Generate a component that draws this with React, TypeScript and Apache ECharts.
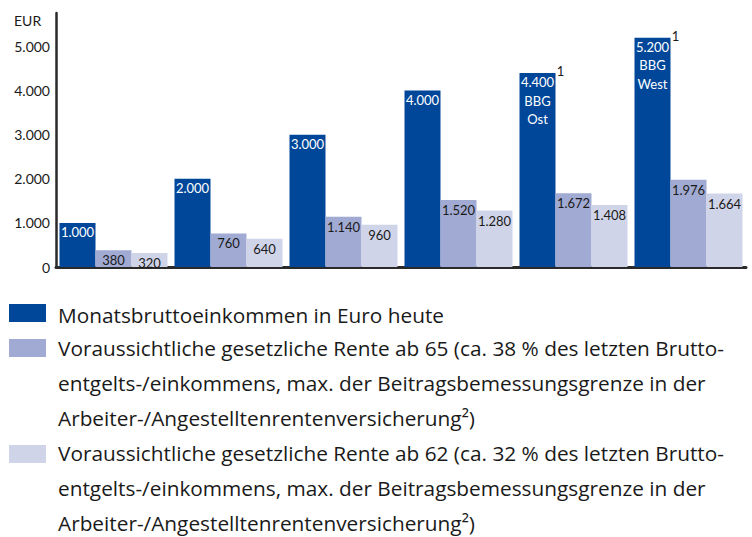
import React, { useEffect, useRef } from "react";
import * as echarts from "echarts";

const categories = ["A", "B", "C", "D", "E", "F"];
const income = [1000, 2000, 3000, 4000, 4400, 5200];
const rente65 = [380, 760, 1140, 1520, 1672, 1976];
const rente62 = [320, 640, 960, 1280, 1408, 1664];
const incomeNotes = ["", "", "", "", "BBG\nOst", "BBG\nWest"];
const footnoteIdx = [4, 5];
const yTicks = [0, 1000, 2000, 3000, 4000, 5000];

const legendItems = [
  { color: "#00479A", text: "Monatsbruttoeinkommen in Euro heute" },
  {
    color: "#A1AAD3",
    text:
      "Voraussichtliche gesetzliche Rente ab 65 (ca. 38 % des letzten Brutto-\nentgelts-/einkommens, max. der Beitragsbemessungsgrenze in der\nArbeiter-/Angestelltenrentenversicherung²)",
  },
  {
    color: "#D0D4E9",
    text:
      "Voraussichtliche gesetzliche Rente ab 62 (ca. 32 % des letzten Brutto-\nentgelts-/einkommens, max. der Beitragsbemessungsgrenze in der\nArbeiter-/Angestelltenrentenversicherung²)",
  },
];

const FONT = "Lato";
const LEGEND_FONT = "Open Sans";

function de(v: number): string {
  const s = String(Math.round(v));
  return s.replace(/\B(?=(\d{3})+(?!\d))/g, ".");
}

export default function App() {
  const ref = useRef<HTMLDivElement>(null);
  useEffect(() => {
    if (!ref.current) return;
    const chart = echarts.init(ref.current, undefined, { renderer: "svg" });
    const labelBase = {
      show: true,
      position: "insideTop" as const,
      distance: 2,
      fontSize: 13,
      fontFamily: FONT,
      lineHeight: 16,
    };
    const legendGraphics: any[] = [];
    const rectYs = [304, 339, 445];
    const textYs = [315, 330.5, 435.5];
    legendItems.forEach((it, i) => {
      legendGraphics.push({
        type: "rect",
        left: 9,
        top: rectYs[i],
        shape: { width: 37, height: 18 },
        style: { fill: it.color },
      });
      legendGraphics.push({
        type: "text",
        x: 58,
        y: textYs[i],
        style: {
          text: it.text,
          fill: "#1a1a1a",
          fontSize: 20.8,
          fontFamily: LEGEND_FONT,
          lineHeight: 35,
          verticalAlign: i === 0 ? "middle" : "top",
        },
      });
    });
    chart.setOption({
      animation: false,
      textStyle: { fontFamily: FONT },
      grid: { left: 56, right: 6, top: 13, bottom: 270, containLabel: false },
      xAxis: {
        type: "category",
        data: categories,
        axisLine: { show: true, lineStyle: { color: "#2a2a2a", width: 3 } },
        axisTick: { show: false },
        axisLabel: { show: false },
      },
      yAxis: {
        type: "value",
        min: 0,
        max: 5760,
        interval: 1000,
        splitLine: { show: false },
        axisTick: { show: false },
        axisLine: { show: true, lineStyle: { color: "#2a2a2a", width: 2.5 } },
        axisLabel: {
          showMaxLabel: false,
          margin: 6,
          color: "#1a1a1a",
          fontSize: 14,
          fontFamily: FONT,
          formatter: (v: number) => (yTicks.includes(v) ? de(v) : ""),
        },
      },
      series: [
        {
          name: "Monatsbruttoeinkommen in Euro heute",
          type: "bar",
          barWidth: 36,
          barGap: "0%",
          itemStyle: { color: "#00479A" },
          data: income.map((v, i) => ({
            value: v,
            label: {
              ...labelBase,
              color: "#ffffff",
              lineHeight: 18.5,
              distance: 0,
              formatter: incomeNotes[i] ? `${de(v)}\n${incomeNotes[i]}` : de(v),
            },
          })),
          markPoint: {
            symbol: "rect",
            symbolSize: 1,
            itemStyle: { color: "rgba(0,0,0,0)" },
            label: {
              show: true,
              formatter: "1",
              position: "inside",
              offset: [23, -2],
              color: "#1a1a1a",
              fontSize: 13,
              fontFamily: FONT,
            },
            data: footnoteIdx.map((i) => ({ coord: [i, income[i]] })),
          },
        },
        {
          name: "Voraussichtliche gesetzliche Rente ab 65",
          type: "bar",
          barWidth: 36,
          barGap: "0%",
          itemStyle: { color: "#A1AAD3" },
          label: { ...labelBase, color: "#1a1a1a", formatter: (p: any) => de(p.value) },
          data: rente65,
        },
        {
          name: "Voraussichtliche gesetzliche Rente ab 62",
          type: "bar",
          barWidth: 36,
          barGap: "0%",
          itemStyle: { color: "#D0D4E9" },
          label: { ...labelBase, color: "#1a1a1a", formatter: (p: any) => de(p.value) },
          data: rente62,
        },
      ],
      graphic: [
        {
          type: "text",
          x: 14,
          y: 20,
          style: { text: "EUR", fill: "#1a1a1a", fontSize: 14, fontFamily: FONT, verticalAlign: "middle" },
        },
        ...legendGraphics,
      ],
    });
    return () => chart.dispose();
  }, []);
  return (
    <div
      ref={ref}
      style={{ position: "fixed", left: 0, top: 0, width: 752, height: 537, background: "#fff" }}
    />
  );
}
